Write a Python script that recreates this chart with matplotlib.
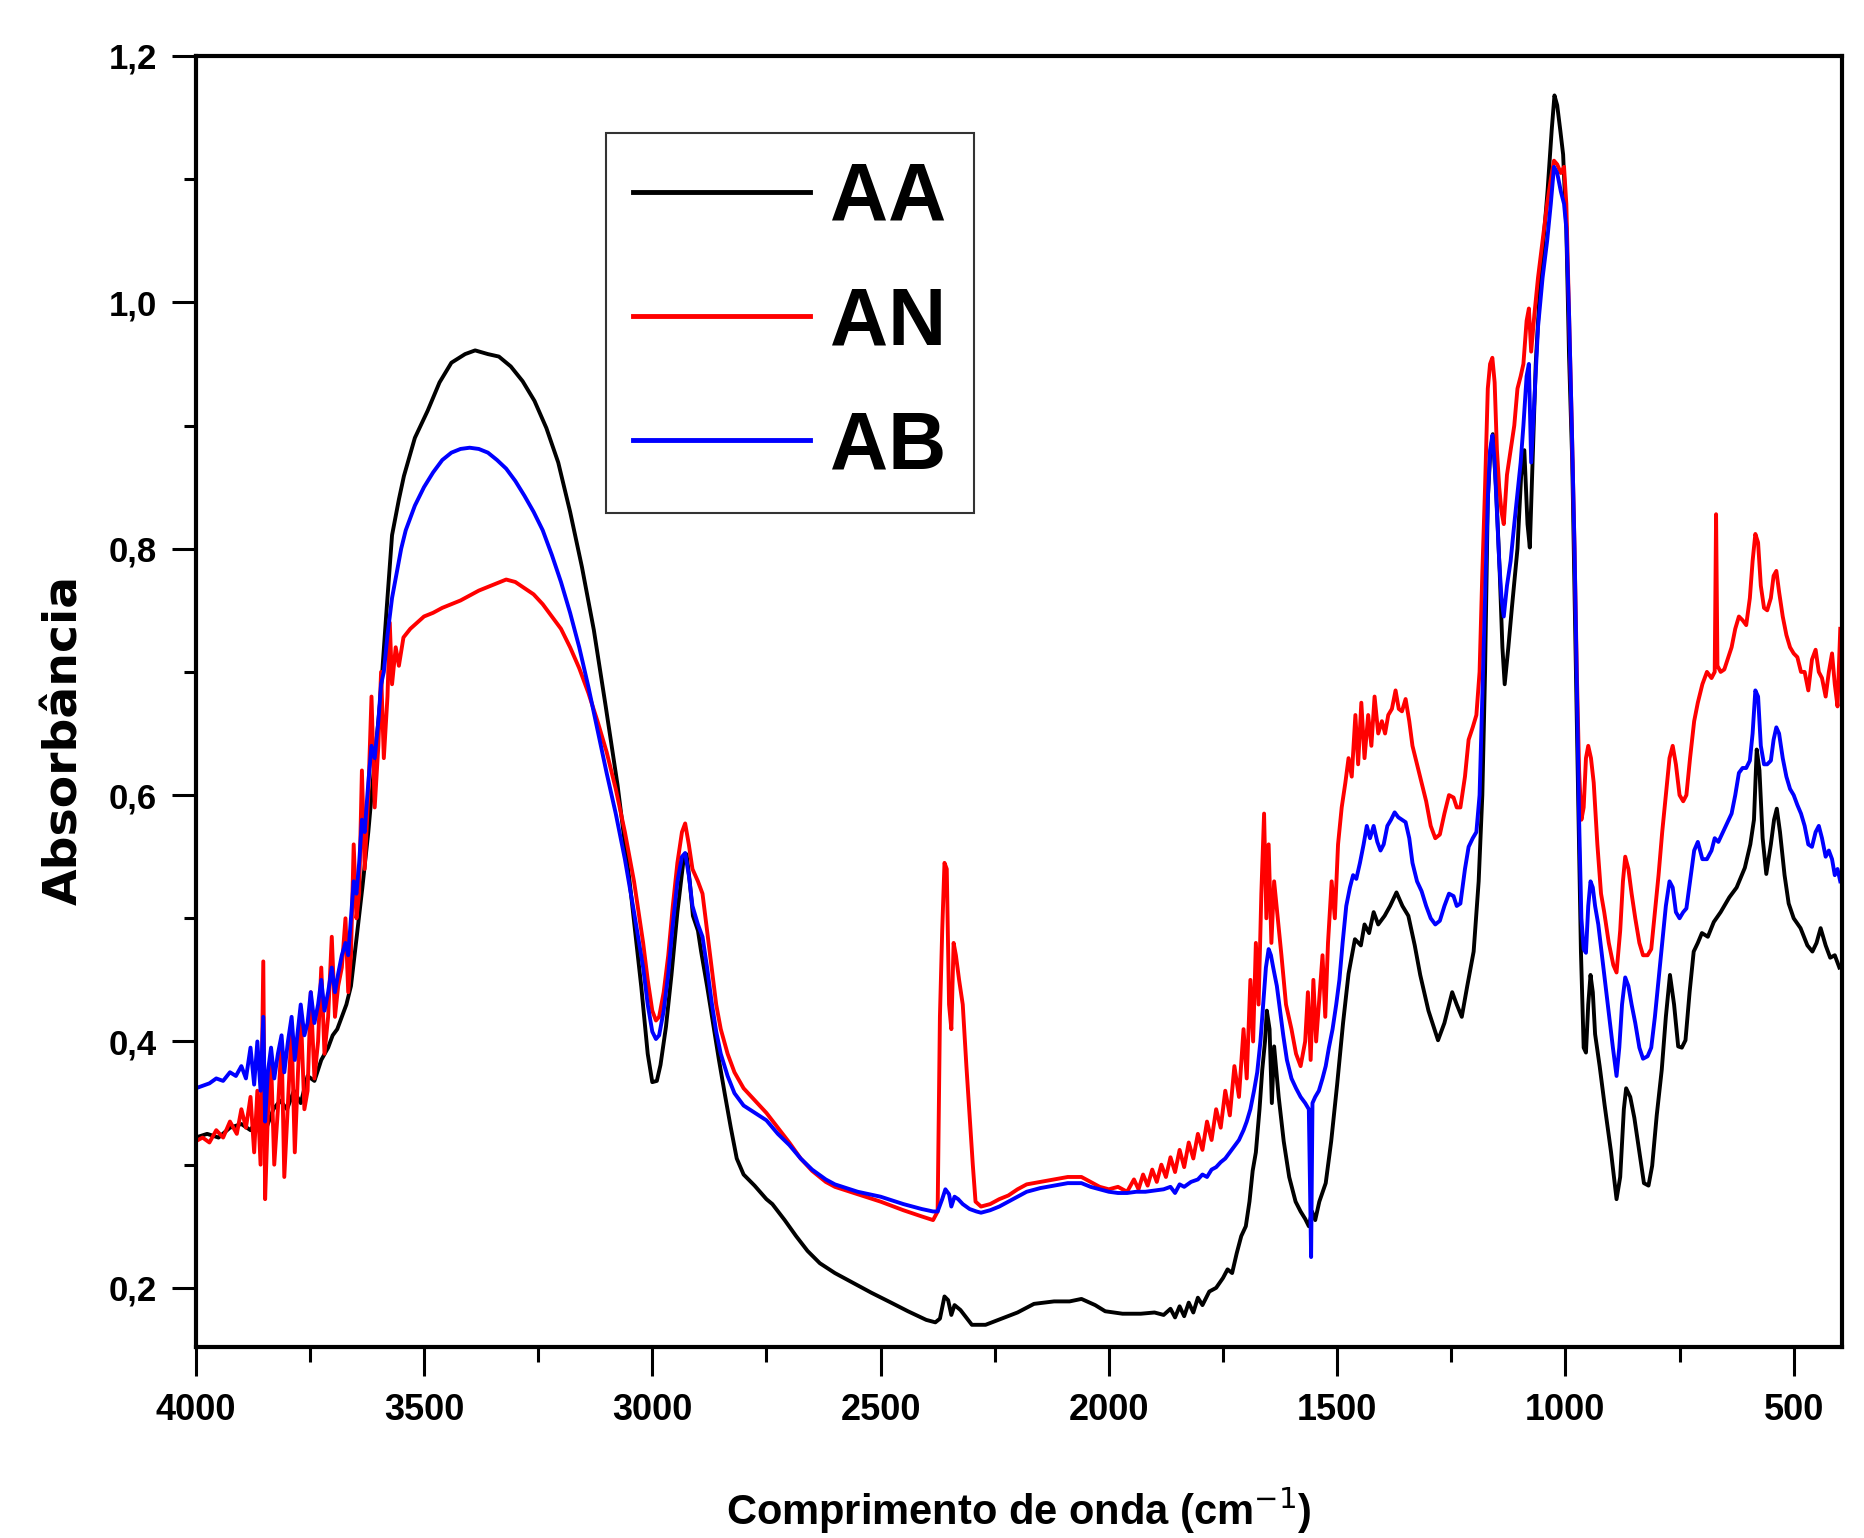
import numpy as np
import matplotlib

matplotlib.use("Agg")
import matplotlib.pyplot as plt
from matplotlib.ticker import FuncFormatter, MultipleLocator

# FTIR spectra: (wavenumber cm-1, absorbance)
aa = np.array([
    (4000, 0.322), (3975, 0.325), (3950, 0.322), (3925, 0.330), (3900, 0.333), (3880, 0.328),
    (3860, 0.340), (3845, 0.330), (3830, 0.345), (3815, 0.352), (3800, 0.345), (3785, 0.360),
    (3770, 0.350), (3755, 0.372), (3740, 0.368), (3725, 0.385), (3710, 0.395), (3700, 0.405),
    (3690, 0.410), (3680, 0.420), (3670, 0.430), (3660, 0.445), (3648, 0.483), (3635, 0.525),
    (3622, 0.570), (3610, 0.620), (3596, 0.676), (3583, 0.745), (3570, 0.811), (3555, 0.840),
    (3544, 0.859), (3520, 0.890), (3492, 0.912), (3466, 0.935), (3440, 0.951), (3410, 0.958),
    (3388, 0.961), (3360, 0.958), (3336, 0.956), (3310, 0.948), (3284, 0.936), (3258, 0.920),
    (3232, 0.898), (3206, 0.870), (3180, 0.830), (3154, 0.785), (3128, 0.734), (3102, 0.672),
    (3076, 0.608), (3050, 0.531), (3024, 0.444), (3010, 0.390), (3000, 0.367), (2990, 0.368),
    (2982, 0.381), (2970, 0.412), (2958, 0.454), (2945, 0.505), (2932, 0.546), (2925, 0.552),
    (2918, 0.530), (2911, 0.502), (2900, 0.490), (2893, 0.473), (2880, 0.445), (2867, 0.415),
    (2854, 0.385), (2841, 0.357), (2828, 0.330), (2815, 0.305), (2800, 0.292), (2776, 0.283),
    (2750, 0.272), (2737, 0.268), (2710, 0.255), (2685, 0.242), (2660, 0.230), (2633, 0.220),
    (2600, 0.212), (2555, 0.203), (2520, 0.196), (2477, 0.188), (2440, 0.181), (2400, 0.174),
    (2380, 0.172), (2370, 0.175), (2360, 0.193), (2352, 0.190), (2345, 0.178), (2338, 0.186),
    (2325, 0.182), (2300, 0.170), (2270, 0.170), (2242, 0.174), (2200, 0.180), (2164, 0.187),
    (2120, 0.189), (2086, 0.189), (2060, 0.191), (2030, 0.186), (2008, 0.181), (1970, 0.179),
    (1930, 0.179), (1900, 0.180), (1880, 0.178), (1865, 0.183), (1855, 0.176), (1845, 0.185),
    (1835, 0.177), (1825, 0.188), (1815, 0.180), (1805, 0.192), (1795, 0.186), (1780, 0.197),
    (1765, 0.200), (1750, 0.208), (1740, 0.215), (1730, 0.212), (1720, 0.228), (1710, 0.242),
    (1700, 0.250), (1692, 0.270), (1685, 0.295), (1678, 0.310), (1670, 0.345), (1664, 0.377),
    (1658, 0.400), (1654, 0.425), (1648, 0.410), (1643, 0.350), (1638, 0.396), (1628, 0.355),
    (1617, 0.319), (1605, 0.290), (1591, 0.270), (1580, 0.262), (1570, 0.256), (1562, 0.250),
    (1555, 0.262), (1548, 0.255), (1539, 0.270), (1525, 0.285), (1513, 0.319), (1500, 0.365),
    (1487, 0.415), (1475, 0.455), (1461, 0.483), (1448, 0.478), (1440, 0.495), (1430, 0.488),
    (1420, 0.505), (1410, 0.495), (1396, 0.502), (1384, 0.510), (1370, 0.521), (1357, 0.510),
    (1344, 0.502), (1330, 0.478), (1318, 0.454), (1300, 0.425), (1279, 0.401), (1265, 0.415),
    (1248, 0.440), (1238, 0.430), (1227, 0.420), (1215, 0.445), (1201, 0.473), (1190, 0.530),
    (1182, 0.600), (1176, 0.700), (1170, 0.840), (1165, 0.875), (1159, 0.893), (1152, 0.850),
    (1144, 0.782), (1138, 0.720), (1133, 0.690), (1125, 0.720), (1117, 0.753), (1105, 0.800),
    (1097, 0.859), (1090, 0.880), (1083, 0.820), (1078, 0.801), (1072, 0.870), (1065, 0.950),
    (1057, 1.004), (1048, 1.050), (1039, 1.091), (1030, 1.140), (1024, 1.168), (1018, 1.160),
    (1011, 1.139), (1005, 1.120), (998, 1.060), (992, 0.956), (985, 0.870), (979, 0.743),
    (972, 0.600), (966, 0.473), (960, 0.395), (955, 0.391), (950, 0.430), (945, 0.454),
    (940, 0.440), (935, 0.406), (925, 0.380), (914, 0.348), (900, 0.310), (888, 0.272),
    (880, 0.290), (872, 0.345), (867, 0.362), (858, 0.355), (849, 0.338), (838, 0.310),
    (828, 0.285), (818, 0.283), (810, 0.299), (800, 0.340), (789, 0.377), (780, 0.420),
    (771, 0.454), (762, 0.430), (753, 0.396), (745, 0.395), (737, 0.401), (728, 0.440),
    (719, 0.473), (710, 0.480), (701, 0.488), (688, 0.485), (675, 0.497), (660, 0.505),
    (641, 0.517), (625, 0.525), (607, 0.541), (595, 0.560), (587, 0.580), (581, 0.637),
    (575, 0.620), (568, 0.565), (560, 0.536), (550, 0.560), (543, 0.580), (537, 0.589),
    (530, 0.570), (520, 0.535), (511, 0.512), (500, 0.500), (485, 0.492), (470, 0.478),
    (459, 0.473), (450, 0.480), (441, 0.492), (430, 0.478), (420, 0.468), (410, 0.470),
    (400, 0.460),
])

an = np.array([
    (4000, 0.319), (3985, 0.322), (3970, 0.318), (3955, 0.328), (3940, 0.322), (3925, 0.335),
    (3910, 0.325), (3900, 0.345), (3890, 0.330), (3880, 0.355), (3872, 0.310), (3865, 0.360),
    (3858, 0.300), (3852, 0.465), (3848, 0.272), (3842, 0.340), (3835, 0.385), (3828, 0.300),
    (3820, 0.345), (3812, 0.400), (3806, 0.290), (3798, 0.350), (3790, 0.410), (3783, 0.310),
    (3776, 0.375), (3770, 0.425), (3762, 0.345), (3755, 0.360), (3748, 0.440), (3740, 0.370),
    (3732, 0.400), (3725, 0.460), (3718, 0.390), (3710, 0.420), (3702, 0.485), (3695, 0.420),
    (3688, 0.445), (3680, 0.460), (3672, 0.500), (3666, 0.440), (3660, 0.470), (3654, 0.560),
    (3648, 0.500), (3642, 0.520), (3636, 0.620), (3630, 0.540), (3622, 0.600), (3615, 0.680),
    (3608, 0.590), (3600, 0.640), (3594, 0.700), (3588, 0.630), (3580, 0.680), (3575, 0.740),
    (3570, 0.690), (3562, 0.720), (3555, 0.705), (3545, 0.728), (3530, 0.735), (3515, 0.740),
    (3500, 0.745), (3480, 0.748), (3460, 0.752), (3440, 0.755), (3420, 0.758), (3400, 0.762),
    (3380, 0.766), (3360, 0.769), (3340, 0.772), (3320, 0.775), (3300, 0.773), (3280, 0.768),
    (3260, 0.763), (3240, 0.755), (3220, 0.745), (3200, 0.735), (3180, 0.720), (3160, 0.703),
    (3140, 0.683), (3120, 0.660), (3100, 0.635), (3080, 0.605), (3060, 0.570), (3040, 0.530),
    (3020, 0.480), (3010, 0.450), (3000, 0.425), (2992, 0.417), (2985, 0.420), (2975, 0.440),
    (2965, 0.470), (2955, 0.510), (2945, 0.545), (2935, 0.570), (2928, 0.577), (2920, 0.560),
    (2912, 0.540), (2900, 0.530), (2890, 0.520), (2880, 0.490), (2870, 0.460), (2860, 0.430),
    (2850, 0.410), (2835, 0.390), (2820, 0.375), (2800, 0.362), (2775, 0.352), (2750, 0.342),
    (2725, 0.330), (2700, 0.318), (2675, 0.305), (2650, 0.295), (2620, 0.286), (2600, 0.282),
    (2550, 0.276), (2500, 0.270), (2450, 0.263), (2410, 0.258), (2385, 0.255), (2375, 0.262),
    (2370, 0.420), (2365, 0.490), (2360, 0.545), (2355, 0.540), (2350, 0.430), (2345, 0.410),
    (2340, 0.480), (2335, 0.470), (2328, 0.450), (2320, 0.430), (2312, 0.380), (2305, 0.340),
    (2298, 0.300), (2292, 0.270), (2280, 0.266), (2260, 0.268), (2240, 0.272), (2220, 0.275),
    (2200, 0.280), (2180, 0.284), (2150, 0.286), (2120, 0.288), (2090, 0.290), (2060, 0.290),
    (2040, 0.286), (2020, 0.282), (2000, 0.280), (1980, 0.282), (1960, 0.278), (1945, 0.288),
    (1935, 0.280), (1925, 0.292), (1915, 0.283), (1905, 0.296), (1895, 0.286), (1885, 0.300),
    (1875, 0.290), (1865, 0.306), (1855, 0.294), (1845, 0.312), (1835, 0.298), (1825, 0.318),
    (1815, 0.305), (1805, 0.325), (1795, 0.312), (1785, 0.335), (1775, 0.320), (1765, 0.345),
    (1755, 0.330), (1745, 0.360), (1735, 0.340), (1725, 0.380), (1715, 0.355), (1705, 0.410),
    (1698, 0.370), (1690, 0.450), (1684, 0.400), (1678, 0.480), (1672, 0.430), (1666, 0.520),
    (1660, 0.585), (1655, 0.500), (1650, 0.560), (1644, 0.480), (1638, 0.530), (1630, 0.500),
    (1622, 0.470), (1612, 0.430), (1600, 0.410), (1590, 0.390), (1580, 0.380), (1570, 0.400),
    (1564, 0.440), (1558, 0.385), (1552, 0.450), (1546, 0.400), (1540, 0.430), (1532, 0.470),
    (1526, 0.420), (1520, 0.480), (1512, 0.530), (1505, 0.500), (1498, 0.560), (1490, 0.590),
    (1482, 0.610), (1475, 0.630), (1468, 0.615), (1460, 0.665), (1454, 0.625), (1447, 0.675),
    (1440, 0.630), (1432, 0.665), (1425, 0.640), (1418, 0.680), (1410, 0.650), (1402, 0.660),
    (1395, 0.650), (1388, 0.665), (1380, 0.670), (1372, 0.685), (1365, 0.670), (1358, 0.668),
    (1350, 0.678), (1342, 0.660), (1335, 0.640), (1325, 0.625), (1315, 0.610), (1305, 0.595),
    (1295, 0.575), (1285, 0.565), (1275, 0.568), (1265, 0.585), (1255, 0.600), (1245, 0.598),
    (1238, 0.590), (1230, 0.590), (1220, 0.615), (1212, 0.645), (1203, 0.655), (1195, 0.665),
    (1188, 0.700), (1182, 0.780), (1176, 0.850), (1170, 0.930), (1165, 0.950), (1160, 0.955),
    (1155, 0.935), (1150, 0.880), (1145, 0.850), (1140, 0.830), (1135, 0.820), (1128, 0.860),
    (1120, 0.880), (1112, 0.900), (1105, 0.930), (1098, 0.940), (1092, 0.950), (1085, 0.985),
    (1080, 0.995), (1075, 0.960), (1068, 0.990), (1060, 1.020), (1050, 1.050), (1040, 1.080),
    (1032, 1.100), (1025, 1.115), (1018, 1.112), (1010, 1.105), (1003, 1.110), (998, 1.080),
    (992, 0.990), (986, 0.900), (980, 0.800), (975, 0.700), (970, 0.620), (965, 0.580),
    (960, 0.590), (955, 0.630), (950, 0.640), (944, 0.630), (938, 0.610), (930, 0.560),
    (922, 0.520), (915, 0.505), (905, 0.480), (895, 0.462), (888, 0.456), (880, 0.490),
    (874, 0.530), (869, 0.550), (862, 0.540), (855, 0.520), (847, 0.500), (838, 0.480),
    (830, 0.470), (820, 0.470), (812, 0.475), (804, 0.505), (796, 0.535), (788, 0.570),
    (780, 0.600), (772, 0.630), (765, 0.640), (758, 0.625), (750, 0.600), (742, 0.595),
    (735, 0.600), (727, 0.630), (718, 0.660), (710, 0.675), (700, 0.690), (690, 0.700),
    (680, 0.695), (673, 0.700), (670, 0.828), (667, 0.705), (660, 0.700), (652, 0.702),
    (645, 0.710), (636, 0.720), (628, 0.735), (620, 0.745), (612, 0.742), (604, 0.738),
    (596, 0.760), (590, 0.790), (584, 0.812), (578, 0.805), (572, 0.770), (565, 0.752),
    (558, 0.750), (550, 0.760), (544, 0.778), (538, 0.782), (532, 0.765), (524, 0.745),
    (516, 0.730), (508, 0.720), (500, 0.715), (492, 0.712), (484, 0.700), (476, 0.700),
    (468, 0.685), (460, 0.710), (452, 0.718), (445, 0.700), (438, 0.695), (430, 0.680),
    (423, 0.700), (416, 0.715), (410, 0.690), (404, 0.672), (398, 0.735),
])

ab = np.array([
    (4000, 0.362), (3985, 0.364), (3970, 0.366), (3955, 0.370), (3940, 0.368), (3925, 0.375),
    (3912, 0.372), (3900, 0.380), (3890, 0.370), (3880, 0.395), (3872, 0.365), (3865, 0.400),
    (3858, 0.360), (3852, 0.420), (3848, 0.335), (3842, 0.375), (3835, 0.395), (3828, 0.370),
    (3820, 0.390), (3812, 0.405), (3806, 0.375), (3798, 0.400), (3790, 0.420), (3783, 0.385),
    (3776, 0.410), (3770, 0.430), (3762, 0.405), (3755, 0.415), (3748, 0.440), (3740, 0.415),
    (3732, 0.430), (3725, 0.450), (3718, 0.425), (3710, 0.440), (3702, 0.460), (3695, 0.440),
    (3688, 0.455), (3680, 0.470), (3672, 0.480), (3666, 0.470), (3660, 0.500), (3654, 0.530),
    (3648, 0.520), (3642, 0.545), (3636, 0.580), (3630, 0.570), (3622, 0.610), (3615, 0.640),
    (3608, 0.630), (3600, 0.660), (3594, 0.690), (3588, 0.700), (3580, 0.730), (3570, 0.760),
    (3560, 0.780), (3550, 0.800), (3540, 0.815), (3520, 0.835), (3500, 0.850), (3480, 0.862),
    (3460, 0.872), (3440, 0.878), (3420, 0.881), (3400, 0.882), (3380, 0.881), (3360, 0.878),
    (3340, 0.872), (3320, 0.865), (3300, 0.855), (3280, 0.843), (3260, 0.830), (3240, 0.815),
    (3220, 0.795), (3200, 0.773), (3180, 0.748), (3160, 0.720), (3140, 0.688), (3120, 0.653),
    (3100, 0.618), (3080, 0.585), (3060, 0.548), (3040, 0.505), (3020, 0.460), (3010, 0.430),
    (3000, 0.408), (2992, 0.402), (2985, 0.405), (2975, 0.425), (2965, 0.455), (2955, 0.495),
    (2945, 0.530), (2935, 0.550), (2928, 0.553), (2920, 0.535), (2912, 0.510), (2900, 0.495),
    (2890, 0.485), (2880, 0.460), (2870, 0.432), (2860, 0.408), (2850, 0.390), (2835, 0.372),
    (2820, 0.358), (2800, 0.348), (2775, 0.342), (2750, 0.336), (2725, 0.325), (2700, 0.316),
    (2675, 0.305), (2650, 0.296), (2620, 0.288), (2600, 0.284), (2550, 0.278), (2500, 0.274),
    (2450, 0.268), (2410, 0.264), (2385, 0.262), (2375, 0.262), (2365, 0.272), (2358, 0.280),
    (2350, 0.276), (2345, 0.266), (2338, 0.274), (2330, 0.272), (2320, 0.268), (2305, 0.264),
    (2290, 0.262), (2280, 0.261), (2260, 0.263), (2240, 0.266), (2220, 0.270), (2200, 0.274),
    (2180, 0.278), (2150, 0.281), (2120, 0.283), (2090, 0.285), (2060, 0.285), (2040, 0.282),
    (2020, 0.280), (2000, 0.278), (1980, 0.277), (1960, 0.277), (1940, 0.278), (1920, 0.278),
    (1900, 0.279), (1880, 0.280), (1865, 0.282), (1855, 0.277), (1845, 0.284), (1835, 0.282),
    (1820, 0.286), (1805, 0.288), (1795, 0.292), (1785, 0.290), (1775, 0.296), (1765, 0.298),
    (1755, 0.302), (1745, 0.305), (1735, 0.310), (1725, 0.315), (1715, 0.320), (1705, 0.328),
    (1698, 0.335), (1690, 0.345), (1682, 0.360), (1675, 0.375), (1668, 0.400), (1662, 0.430),
    (1656, 0.460), (1650, 0.475), (1645, 0.470), (1640, 0.460), (1632, 0.445), (1625, 0.425),
    (1618, 0.405), (1610, 0.385), (1600, 0.370), (1590, 0.362), (1580, 0.355), (1570, 0.350),
    (1562, 0.345), (1557, 0.225), (1554, 0.350), (1548, 0.355), (1540, 0.360), (1532, 0.370),
    (1525, 0.380), (1518, 0.395), (1510, 0.410), (1502, 0.430), (1495, 0.450), (1488, 0.480),
    (1480, 0.510), (1472, 0.525), (1465, 0.535), (1458, 0.532), (1450, 0.545), (1442, 0.560),
    (1435, 0.575), (1428, 0.565), (1420, 0.575), (1412, 0.562), (1405, 0.555), (1398, 0.560),
    (1390, 0.575), (1382, 0.580), (1374, 0.586), (1366, 0.582), (1358, 0.580), (1350, 0.578),
    (1342, 0.565), (1335, 0.545), (1325, 0.530), (1315, 0.522), (1305, 0.510), (1295, 0.500),
    (1285, 0.495), (1275, 0.498), (1265, 0.510), (1255, 0.520), (1245, 0.518), (1238, 0.510),
    (1230, 0.512), (1220, 0.540), (1212, 0.558), (1203, 0.565), (1195, 0.570), (1188, 0.600),
    (1182, 0.680), (1176, 0.760), (1170, 0.840), (1165, 0.880), (1160, 0.892), (1155, 0.870),
    (1150, 0.830), (1145, 0.790), (1140, 0.760), (1135, 0.745), (1128, 0.770), (1120, 0.790),
    (1112, 0.820), (1105, 0.845), (1098, 0.870), (1092, 0.900), (1085, 0.940), (1080, 0.950),
    (1075, 0.870), (1068, 0.920), (1060, 0.980), (1050, 1.020), (1040, 1.050), (1032, 1.080),
    (1025, 1.110), (1018, 1.105), (1010, 1.090), (1003, 1.080), (998, 1.060), (992, 0.990),
    (986, 0.900), (980, 0.800), (975, 0.690), (970, 0.580), (965, 0.500), (960, 0.475),
    (955, 0.472), (950, 0.510), (945, 0.530), (940, 0.525), (935, 0.510), (928, 0.495),
    (920, 0.470), (912, 0.445), (904, 0.420), (896, 0.395), (888, 0.372), (882, 0.395),
    (876, 0.430), (869, 0.452), (862, 0.445), (855, 0.430), (847, 0.415), (838, 0.395),
    (830, 0.386), (820, 0.388), (812, 0.395), (804, 0.420), (796, 0.450), (788, 0.480),
    (780, 0.510), (772, 0.530), (765, 0.525), (758, 0.505), (750, 0.500), (742, 0.505),
    (735, 0.508), (727, 0.530), (718, 0.555), (710, 0.562), (700, 0.548), (690, 0.548),
    (680, 0.555), (673, 0.565), (665, 0.562), (655, 0.570), (645, 0.578), (636, 0.585),
    (628, 0.600), (620, 0.618), (612, 0.622), (604, 0.622), (596, 0.628), (590, 0.650),
    (584, 0.685), (578, 0.680), (572, 0.640), (565, 0.625), (558, 0.625), (550, 0.628),
    (544, 0.645), (538, 0.655), (532, 0.650), (524, 0.630), (516, 0.615), (508, 0.605),
    (500, 0.600), (492, 0.592), (484, 0.585), (476, 0.575), (468, 0.560), (460, 0.558),
    (452, 0.570), (445, 0.575), (438, 0.565), (430, 0.550), (423, 0.555), (416, 0.548),
    (410, 0.535), (404, 0.540), (398, 0.530),
])

labels = ["AA", "AN", "AB"]
colors = ["black", "red", "blue"]
x_ticks = [4000, 3500, 3000, 2500, 2000, 1500, 1000, 500]
y_ticks = [0.2, 0.4, 0.6, 0.8, 1.0, 1.2]

narrow = ["Liberation Sans Narrow", "Liberation Sans", "DejaVu Sans"]


def main():
    fig = plt.figure(figsize=(18.64, 15.38), dpi=100)
    ax = fig.add_axes([0.105, 0.1242, 0.883, 0.8394])

    for spec, lab, col in zip([aa, an, ab], labels, colors):
        ax.plot(spec[:, 0], spec[:, 1], color=col, lw=2.8, label=lab)

    ax.set_xlim(4000, 395)
    ax.set_ylim(0.152, 1.2)

    ax.set_xticks(x_ticks)
    ax.xaxis.set_minor_locator(MultipleLocator(250))
    ax.set_yticks(y_ticks)
    ax.yaxis.set_minor_locator(MultipleLocator(0.1))
    ax.yaxis.set_major_formatter(
        FuncFormatter(lambda v, p: f"{v:.1f}".replace(".", ","))
    )

    for s in ax.spines.values():
        s.set_linewidth(3)
    ax.tick_params(axis="x", which="major", direction="out", length=21, width=2.2, pad=12)
    ax.tick_params(axis="x", which="minor", direction="out", length=11, width=2.2)
    ax.tick_params(axis="y", which="major", direction="out", length=17, width=2.2, pad=11)
    ax.tick_params(axis="y", which="minor", direction="out", length=9, width=2.2)
    for t in ax.get_xticklabels():
        t.set_fontfamily(narrow)
        t.set_fontweight("bold")
        t.set_fontsize(26)
    for t in ax.get_yticklabels():
        t.set_fontfamily(narrow)
        t.set_fontweight("bold")
        t.set_fontsize(25)

    ax.set_xlabel(
        "Comprimento de onda (cm$^{-1}$)",
        family=narrow, fontweight="bold", fontsize=30, labelpad=41,
    )
    ax.set_ylabel("Absorbância", family="DejaVu Sans", fontweight="bold", fontsize=34)
    ax.yaxis.set_label_coords(-0.066, 0.47)

    leg = ax.legend(
        loc="upper left", bbox_to_anchor=(0.249, 0.94), borderaxespad=0,
        prop={"family": narrow, "weight": "bold", "size": 58},
        handlelength=2.2, handletextpad=0.25, labelspacing=0.6, borderpad=0.34,
        fancybox=False, frameon=True,
    )
    leg.get_frame().set_edgecolor("black")
    leg.get_frame().set_linewidth(1.5)
    for line in leg.get_lines():
        line.set_linewidth(3.5)

    fig.savefig("out.png", dpi=100)


if __name__ == "__main__":
    main()
